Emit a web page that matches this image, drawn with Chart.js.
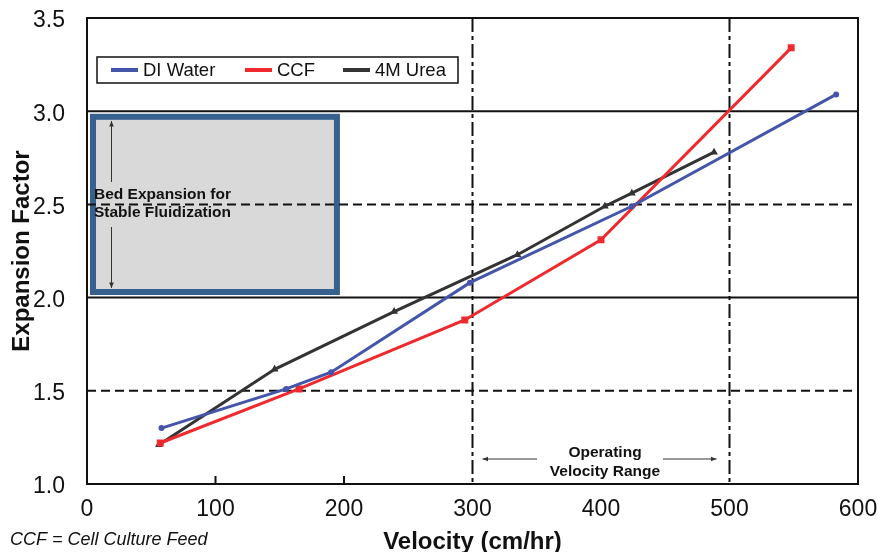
<!DOCTYPE html>
<html>
<head>
<meta charset="utf-8">
<script src="https://cdn.jsdelivr.net/npm/chart.js@4.4.0/dist/chart.umd.min.js"></script>
<style>
  body { margin: 0; background: #fff; }
  #wrap { width: 878px; height: 552px; position: relative; }
</style>
</head>
<body>
<div id="wrap"><canvas id="grafico"></canvas></div>
<script>
// values
const diWaterX = [58, 155, 190, 298, 424, 583];
const diWaterY = [1.30, 1.51, 1.60, 2.08, 2.49, 3.09];
const ccfX = [57, 165, 294, 400, 548];
const ccfY = [1.22, 1.51, 1.88, 2.31, 3.34];
const ureaX = [56, 146, 239, 335, 403, 424, 488];
const ureaY = [1.21, 1.615, 1.925, 2.23, 2.49, 2.56, 2.78];
const seriesNames = ['DI Water', 'CCF', '4M Urea'];
const xTickValues = [0, 100, 200, 300, 400, 500, 600];
const yTickValues = [1.0, 1.5, 2.0, 2.5, 3.0, 3.5];
const solidLevels = [2.0, 3.0];
const dashedLevels = [1.5, 2.5];
const operatingRange = [300, 500];
const bedRange = [2.0, 3.0];

const FONT = "'Liberation Sans', Arial, sans-serif";
const colores = ['#4455aa', '#ee2a2e', '#333333'];

const toPoints = (xs, ys) => xs.map((x, i) => ({ x: x, y: ys[i] }));

function arrow(ctx, x1, y1, x2, y2) {
    // line from (x1,y1) to head at (x2,y2)
    const ang = Math.atan2(y2 - y1, x2 - x1);
    ctx.beginPath();
    ctx.moveTo(x1, y1);
    ctx.lineTo(x2, y2);
    ctx.stroke();
    ctx.beginPath();
    ctx.moveTo(x2, y2);
    ctx.lineTo(x2 - 6 * Math.cos(ang - 0.4), y2 - 6 * Math.sin(ang - 0.4));
    ctx.lineTo(x2 - 6 * Math.cos(ang + 0.4), y2 - 6 * Math.sin(ang + 0.4));
    ctx.closePath();
    ctx.fill();
}

const decor = {
    id: 'decor',
    beforeDatasetsDraw(chart) {
        const { ctx, chartArea: ca, scales: { x, y } } = chart;
        ctx.save();
        // stable fluidization box
        const bx1 = ca.left + 6, bx2 = x.getPixelForValue(194.5);
        const by1 = y.getPixelForValue(bedRange[1] - 0.03), by2 = y.getPixelForValue(bedRange[0] + 0.03);
        ctx.fillStyle = '#d9d9d9';
        ctx.fillRect(bx1, by1, bx2 - bx1, by2 - by1);
        ctx.strokeStyle = '#36618f';
        ctx.lineWidth = 6;
        ctx.strokeRect(bx1, by1, bx2 - bx1, by2 - by1);

        // horizontal grid
        ctx.strokeStyle = '#111';
        ctx.lineWidth = 2;
        solidLevels.forEach(v => {
            const py = y.getPixelForValue(v);
            ctx.beginPath(); ctx.moveTo(ca.left, py); ctx.lineTo(ca.right, py); ctx.stroke();
        });
        ctx.setLineDash([9, 5]);
        dashedLevels.forEach(v => {
            const py = y.getPixelForValue(v);
            ctx.beginPath(); ctx.moveTo(ca.left, py); ctx.lineTo(ca.right, py); ctx.stroke();
        });
        // operating range lines
        ctx.setLineDash([14, 4, 4, 4]);
        operatingRange.forEach(v => {
            const px = x.getPixelForValue(v);
            ctx.beginPath(); ctx.moveTo(px, ca.top); ctx.lineTo(px, ca.bottom); ctx.stroke();
        });
        ctx.setLineDash([]);
        // little inner ticks
        [100, 200].forEach(v => {
            const px = x.getPixelForValue(v);
            ctx.beginPath(); ctx.moveTo(px, ca.bottom); ctx.lineTo(px, ca.bottom - 8); ctx.stroke();
        });
        // frame
        ctx.strokeRect(ca.left, ca.top, ca.right - ca.left, ca.bottom - ca.top);
        ctx.restore();
    },
    afterDatasetsDraw(chart) {
        const { ctx, chartArea: ca, scales: { x, y } } = chart;
        ctx.save();
        // legend
        const lx = ca.left + 10, ly = 57;
        ctx.fillStyle = '#fff';
        ctx.fillRect(lx, ly, 361, 26);
        ctx.strokeStyle = '#111';
        ctx.lineWidth = 1.5;
        ctx.strokeRect(lx, ly, 361, 26);
        const itemX = [lx + 14, lx + 148, lx + 246];
        ctx.font = '18.5px ' + FONT;
        ctx.textBaseline = 'middle';
        ctx.textAlign = 'left';
        chart.data.datasets.forEach((ds, i) => {
            ctx.strokeStyle = ds.borderColor;
            ctx.lineWidth = 4;
            ctx.beginPath();
            ctx.moveTo(itemX[i], ly + 13);
            ctx.lineTo(itemX[i] + 27, ly + 13);
            ctx.stroke();
            ctx.fillStyle = '#111';
            ctx.fillText(ds.label, itemX[i] + 32, ly + 14);
        });

        // box text and arrows
        const ax = ca.left + 24.5;
        ctx.strokeStyle = '#333';
        ctx.fillStyle = '#333';
        ctx.lineWidth = 1;
        arrow(ctx, ax, 182, ax, 121);
        arrow(ctx, ax, 227, ax, 288);
        ctx.fillStyle = '#111';
        ctx.font = 'bold 15.5px ' + FONT;
        ctx.fillText('Bed Expansion for', ca.left + 7, 195);
        ctx.fillText('Stable Fluidization', ca.left + 7, 213);

        // operating velocity range
        const cx = (x.getPixelForValue(operatingRange[0]) + x.getPixelForValue(operatingRange[1])) / 2 + 4;
        ctx.textAlign = 'center';
        ctx.font = 'bold 15.5px ' + FONT;
        ctx.fillText('Operating', cx, ca.bottom - 31);
        ctx.fillText('Velocity Range', cx, ca.bottom - 12);
        ctx.strokeStyle = '#333';
        ctx.fillStyle = '#333';
        arrow(ctx, cx - 68, ca.bottom - 25, x.getPixelForValue(operatingRange[0]) + 10, ca.bottom - 25);
        arrow(ctx, cx + 58, ca.bottom - 25, x.getPixelForValue(operatingRange[1]) - 13, ca.bottom - 25);

        // footnote
        ctx.textAlign = 'left';
        ctx.fillStyle = '#111';
        ctx.font = 'italic 18px ' + FONT;
        ctx.fillText('CCF = Cell Culture Feed', 10, 540);
        ctx.restore();
    }
};

const canvas = document.querySelector('#grafico');
const myChart = new Chart(canvas, {
    type: 'line',
    data: {
        datasets: [
            { label: seriesNames[0], data: toPoints(diWaterX, diWaterY), borderColor: colores[0], backgroundColor: colores[0],
              borderWidth: 3, pointRadius: 1.5, pointStyle: 'circle' },
            { label: seriesNames[1], data: toPoints(ccfX, ccfY), borderColor: colores[1], backgroundColor: colores[1],
              borderWidth: 3, pointRadius: 2.8, pointStyle: 'rect' },
            { label: seriesNames[2], data: toPoints(ureaX, ureaY), borderColor: colores[2], backgroundColor: colores[2],
              borderWidth: 3, pointRadius: 1.5, pointStyle: 'triangle' }
        ]
    },
    options: {
        responsive: true,
        maintainAspectRatio: false,
        animation: false,
        layout: { padding: { top: 18, right: 20, left: 0, bottom: 0 } },
        plugins: { legend: { display: false }, tooltip: { enabled: false } },
        scales: {
            x: {
                type: 'linear', min: 0, max: 600,
                afterBuildTicks: (s) => { s.ticks = xTickValues.map(v => ({ value: v })); },
                afterFit: (s) => { s.height = 68; s.paddingLeft = 0; s.paddingRight = 0; },
                grid: { display: false },
                border: { display: false },
                ticks: { padding: 4, color: '#111', font: { family: FONT, size: 23 }, maxRotation: 0 },
                title: { display: true, text: 'Velocity (cm/hr)', color: '#111',
                         font: { family: FONT, size: 24, weight: 'bold', lineHeight: 1 }, padding: { top: 0, bottom: -2 } }
            },
            y: {
                min: 1, max: 3.5,
                afterBuildTicks: (s) => { s.ticks = yTickValues.map(v => ({ value: v })); },
                afterFit: (s) => { s.width = 87; s.paddingTop = 0; s.paddingBottom = 0; },
                grid: { display: false },
                border: { display: false },
                ticks: { padding: 14, labelOffset: 3, color: '#111', font: { family: FONT, size: 23 }, callback: (v) => v.toFixed(1) },
                title: { display: true, text: 'Expansion Factor', color: '#111',
                         font: { family: FONT, size: 24, weight: 'bold', lineHeight: 1 }, padding: { top: 10, bottom: 0 } }
            }
        }
    },
    plugins: [decor]
});
</script>
</body>
</html>
